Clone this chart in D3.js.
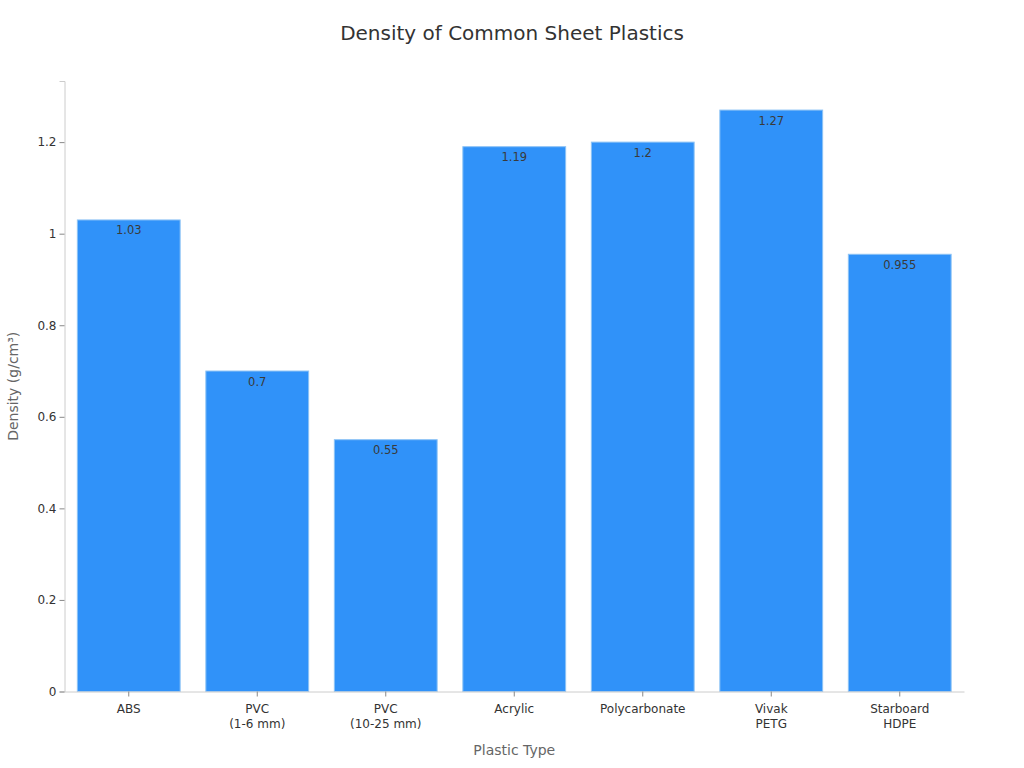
<!DOCTYPE html>
<html><head><meta charset="utf-8">
<script src="https://cdn.jsdelivr.net/npm/d3@7"></script>
<style>body{margin:0;background:#fff;font-family:"DejaVu Sans",sans-serif;}</style>
</head><body><svg id="c" width="1024" height="768"></svg>
<script>
const categories = [["ABS"],["PVC","(1-6 mm)"],["PVC","(10-25 mm)"],["Acrylic"],["Polycarbonate"],["Vivak","PETG"],["Starboard","HDPE"]];
const values = [1.03, 0.7, 0.55, 1.19, 1.2, 1.27, 0.955];
const yTicks = [0, 0.2, 0.4, 0.6, 0.8, 1, 1.2];
const title = "Density of Common Sheet Plastics";
const xTitle = "Plastic Type";
const yTitle = "Density (g/cm³)";

const svg = d3.select("#c");
const m = {l:64.5, r:964, t:81, b:691.5};
const keys = categories.map(c => c.join("\n"));
const x = d3.scaleBand().domain(keys).range([m.l, m.r]).paddingInner(0.2).paddingOuter(0.1);
const y = d3.scaleLinear().domain([0, 1.3335]).range([m.b, m.t]);

svg.append("text").attr("x",512).attr("y",40).attr("text-anchor","middle")
  .attr("font-size",20).attr("fill","#333").text(title);

svg.selectAll("rect.bar").data(values).join("rect").attr("class","bar")
  .attr("x",(d,i)=>x(keys[i])).attr("width",x.bandwidth())
  .attr("y",d=>y(d)).attr("height",d=>y(0)-y(d))
  .attr("fill","#3092f9").attr("stroke","#8cc2f5").attr("stroke-width",1);

svg.selectAll("text.lbl").data(values).join("text").attr("class","lbl")
  .attr("x",(d,i)=>x(keys[i])+x.bandwidth()/2).attr("y",d=>y(d)+14.5)
  .attr("text-anchor","middle").attr("font-size",11.5).attr("fill","#3a3a3a").text(d=>String(d));

const ya = svg.append("g").attr("transform",`translate(${m.l},0)`)
  .call(d3.axisLeft(y).tickValues(yTicks).tickSize(5).tickPadding(3).tickFormat(d=>String(d)));
ya.select(".domain").attr("stroke","#ccc");
ya.selectAll(".tick line").attr("stroke","#888");
ya.selectAll(".tick text").attr("font-size",12).attr("fill","#333").attr("font-family","DejaVu Sans");

const xa = svg.append("g").attr("transform",`translate(0,${m.b})`)
  .call(d3.axisBottom(x).tickSize(5).tickPadding(8).tickSizeOuter(0));
xa.select(".domain").attr("stroke","#ccc");
xa.selectAll(".tick line").attr("stroke","#888");
xa.selectAll(".tick text").attr("font-size",12).attr("fill","#333").attr("font-family","DejaVu Sans")
  .each(function(d){
    const t = d3.select(this); const lines = d.split("\n"); t.text(null);
    lines.forEach((ln,i)=>t.append("tspan").attr("x",0).attr("dy", i===0 ? "0.71em" : "1.25em").text(ln));
  });

svg.append("text").attr("x",(m.l+m.r)/2).attr("y",755).attr("text-anchor","middle")
  .attr("font-size",14).attr("fill","#666").text(xTitle);
svg.append("text").attr("transform",`translate(18,${(m.t+m.b)/2}) rotate(-90)`).attr("text-anchor","middle")
  .attr("font-size",14).attr("fill","#666").text(yTitle);
</script></body></html>
